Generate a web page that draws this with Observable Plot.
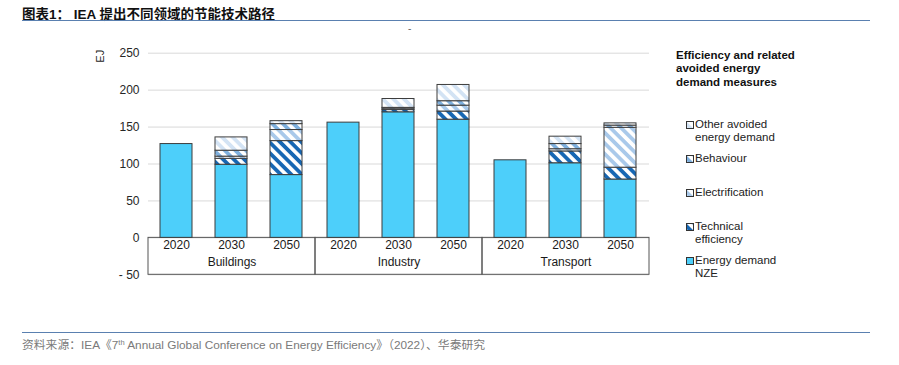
<!DOCTYPE html>
<html>
<head>
<meta charset="utf-8">
<script src="https://cdn.jsdelivr.net/npm/d3@7"></script>
<script src="https://cdn.jsdelivr.net/npm/@observablehq/plot@0.6"></script>
<style>
  html, body { margin: 0; padding: 0; background: #fff; }
  body { width: 899px; height: 365px; position: relative; overflow: hidden;
         font-family: "Liberation Sans", Arial, sans-serif; color: #222; }
  .abs { position: absolute; }
  #title { left: 22px; top: 3px; font-family: "Liberation Sans", "Noto Sans CJK SC", sans-serif;
           font-weight: bold; font-size: 13.5px; letter-spacing: 0px; color: #111; white-space: nowrap; }
  .hr { height: 0; border-top: 1.5px solid #5a80b0; }
  #footer { left: 22px; top: 335px; font-size: 11.8px; color: #7a7a7a; white-space: nowrap;
            font-family: "Liberation Sans", "Noto Sans CJK SC", sans-serif; }
  #footer sup { font-size: 7.5px; vertical-align: 4px; }
  #legtitle { left: 676px; top: 49px; font-weight: bold; font-size: 11.5px; line-height: 13.3px; color: #111; }
  .leg { left: 686px; font-size: 11.5px; line-height: 13.3px; color: #222; }
  .leg svg { position: absolute; left: 0; top: 3px; }
  .leg span { display: block; margin-left: 9px; }
</style>
</head>
<body>
<svg width="0" height="0" style="position:absolute">
  <defs>
    <pattern id="p-tech" patternUnits="userSpaceOnUse" width="7.5" height="7.5" patternTransform="rotate(45)">
      <rect width="7.5" height="7.5" fill="#ffffff"/>
      <rect width="7.5" height="3.8" fill="#1767b3"/>
    </pattern>
    <pattern id="p-elec" patternUnits="userSpaceOnUse" width="7.5" height="7.5" patternTransform="rotate(45)">
      <rect width="7.5" height="7.5" fill="#ffffff"/>
      <rect width="7.5" height="3.8" fill="#a9c9ea"/>
    </pattern>
    <pattern id="p-beh" patternUnits="userSpaceOnUse" width="7.5" height="7.5" patternTransform="rotate(45)">
      <rect width="7.5" height="7.5" fill="#ffffff"/>
      <rect width="7.5" height="3.8" fill="#7fb0de"/>
    </pattern>
    <pattern id="p-other" patternUnits="userSpaceOnUse" width="7.5" height="7.5" patternTransform="rotate(45)">
      <rect width="7.5" height="7.5" fill="#ffffff"/>
      <rect width="7.5" height="3.8" fill="#d3e3f4"/>
    </pattern>
  </defs>
</svg>

<div id="title" class="abs">图表1： IEA 提出不同领域的节能技术路径</div>
<div class="abs hr" style="left:22px; top:20px; width:848px;"></div>
<div class="abs" style="left:408px; top:23px; font-size:10px; color:#666;">-</div>
<div id="chart" class="abs" style="left:0; top:30px;"></div>
<div id="legend"></div>
<div class="abs hr" style="left:22px; top:332px; width:848px; border-top-width:1.2px;"></div>
<div id="footer" class="abs">资料来源：IEA《7<sup>th</sup> Annual Global Conference on Energy Efficiency》（2022）、华泰研究</div>

<script>
// ---- data ----
const sectors = ["Buildings", "Industry", "Transport"];
const years = ["2020", "2030", "2050"];
const measures = ["Energy demand NZE", "Technical efficiency", "Electrification", "Behaviour", "Other avoided energy demand"];
// values ordered Buildings 2020, 2030, 2050, Industry 2020, 2030, 2050, Transport 2020, 2030, 2050 (EJ)
const energyDemandNZE = [127, 99, 85, 156, 170, 160, 105, 101, 79];
const technicalEfficiency = [0, 8, 46, 0, 3, 11, 0, 16, 16];
const electrification = [0, 3, 15, 0, 2, 8, 0, 3, 54];
const behaviour = [0, 8, 8, 0, 1, 6, 0, 7, 3];
const otherAvoided = [0, 18, 4, 0, 12, 22, 0, 10, 3];
const yTicks = [-50, 0, 50, 100, 150, 200, 250];
const legendLabels = [["Other avoided", "energy demand"], ["Behaviour"], ["Electrification"], ["Technical", "efficiency"], ["Energy demand", "NZE"]];

// ---- styles ----
const fills = ["#4dcffa", "url(#p-tech)", "url(#p-elec)", "url(#p-beh)", "url(#p-other)"];
const series = [energyDemandNZE, technicalEfficiency, electrification, behaviour, otherAvoided];

const rows = [];
const cells = [];
sectors.forEach((s, si) => years.forEach((y, yi) => {
  const idx = si * years.length + yi;
  cells.push({sector: s, year: y});
  measures.forEach((m, mi) => {
    const v = series[mi][idx];
    if (v > 0) rows.push({sector: s, year: y, measure: m, value: v});
  });
}));

const chart = Plot.plot({
  width: 899,
  height: 300,
  marginTop: 22.7,
  marginBottom: 55.7,
  marginLeft: 147,
  marginRight: 249,
  style: {fontFamily: "'Liberation Sans', Arial, sans-serif", fontSize: "12px", color: "#262626", background: "transparent"},
  fx: {domain: sectors, padding: 0, axis: null},
  x: {domain: years, paddingInner: 0.41, paddingOuter: 0.205, axis: null},
  y: {domain: [-50, 250], axis: null},
  color: {domain: measures, range: fills},
  marks: [
    Plot.gridY(yTicks, {stroke: "#d9d9d9", strokeOpacity: 1}),
    Plot.axisY(yTicks, {fx: null, tickSize: 0, tickPadding: 9, fontSize: 12, fill: "#262626",
      tickFormat: d => d < 0 ? "- " + Math.abs(d) : String(d), label: null}),
    Plot.rect(sectors, {fx: d => d, y1: 0, y2: -50, stroke: "#555", fill: "none", strokeWidth: 1}),
    Plot.barY(rows, {fx: "sector", x: "year", y: "value", fill: "measure", stroke: "#3d3d3d", strokeWidth: 1}),
    Plot.text(cells, {fx: "sector", x: "year", text: "year", frameAnchor: "bottom", dy: -26.3, fontSize: 12, fill: "#1a1a1a"}),
    Plot.text(sectors, {fx: d => d, text: d => d, frameAnchor: "bottom", dy: -9.3, fontSize: 12, fill: "#1a1a1a"}),
    Plot.text([sectors[0]], {fx: d => d, text: () => "EJ", frameAnchor: "top-left", dx: -52, dy: 9.5, rotate: -90, fontSize: 11, fill: "#262626"})
  ]
});
document.getElementById("chart").appendChild(chart);

// ---- legend (HTML) ----
const legend = document.getElementById("legend");
const lt = document.createElement("div");
lt.id = "legtitle"; lt.className = "abs";
lt.innerHTML = "Efficiency and related<br>avoided energy<br>demand measures";
legend.appendChild(lt);
const legTops = [117.6, 151.6, 186, 220, 254];
const legOrder = [4, 3, 2, 1, 0];
legOrder.forEach((mi, k) => {
  const d = document.createElement("div");
  d.className = "abs leg";
  d.style.top = legTops[k] + "px";
  d.innerHTML = `<svg width="8" height="8"><rect x="0.5" y="0.5" width="7" height="7" fill="${fills[mi]}" stroke="#333" stroke-width="1"/></svg>` +
    legendLabels[k].map(t => `<span>${t}</span>`).join("");
  legend.appendChild(d);
});
</script>
</body>
</html>
